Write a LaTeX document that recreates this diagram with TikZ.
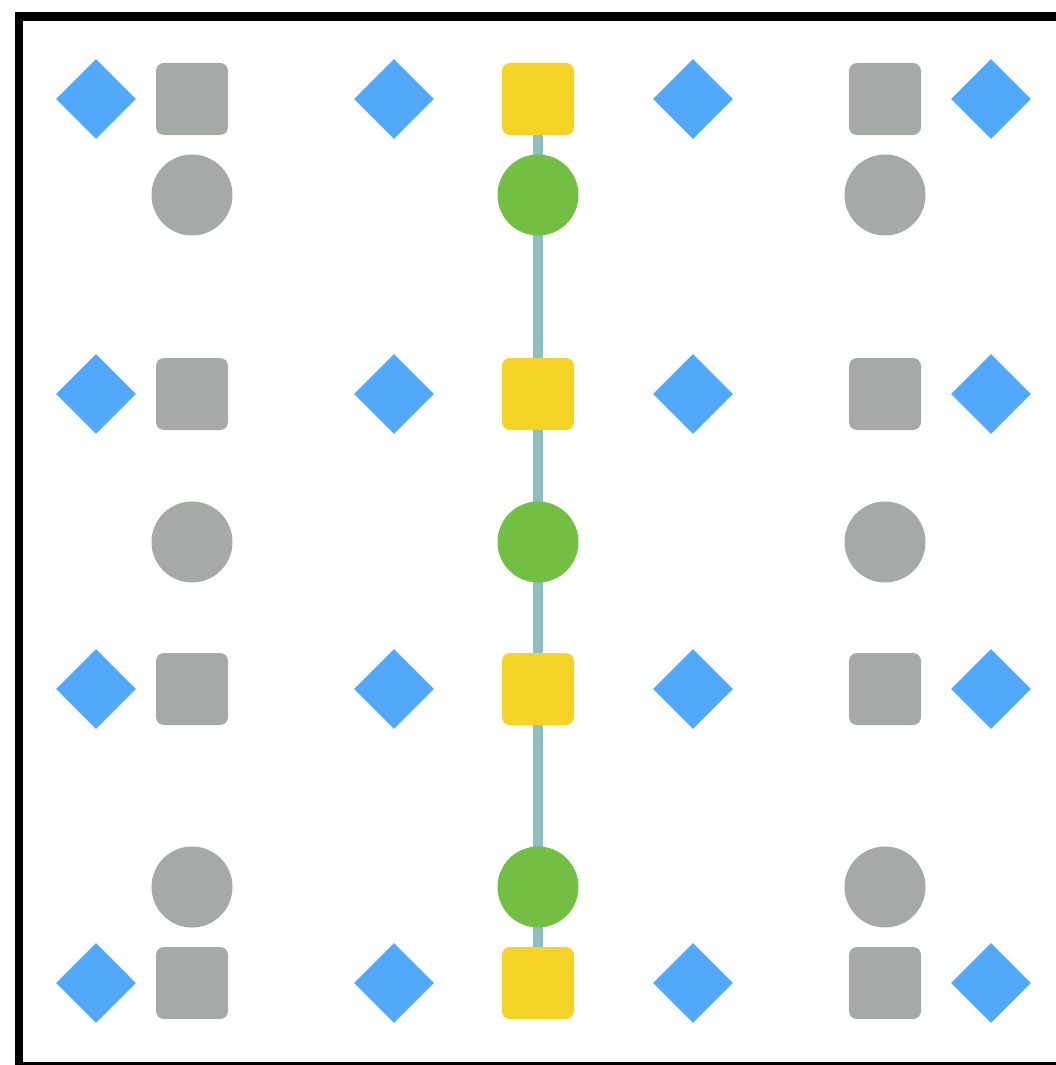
\documentclass[tikz,border=0pt]{standalone}
\usetikzlibrary{shapes.geometric,backgrounds}
\definecolor{dblue}{HTML}{52A8FA}
\definecolor{sgray}{HTML}{A6AAA7}
\definecolor{syel}{HTML}{F5D327}
\definecolor{sgreen}{HTML}{72BF44}
\definecolor{lteal}{HTML}{8BBFC0}
\tikzset{
  dia/.style={diamond,aspect=1,fill=dblue,draw=none,minimum width=80pt,minimum height=80pt,inner sep=0pt},
  gsq/.style={rectangle,rounded corners=8pt,fill=sgray,draw=none,minimum size=72pt,inner sep=0pt},
  ysq/.style={rectangle,rounded corners=8pt,fill=syel,draw=none,minimum size=72pt,inner sep=0pt},
  gci/.style={circle,fill=sgray,draw=none,minimum size=81pt,inner sep=0pt},
  grc/.style={circle,fill=sgreen,draw=none,minimum size=81pt,inner sep=0pt},
  link/.style={draw=lteal,line width=10pt}
}
\begin{document}
\begin{tikzpicture}[x=1pt,y=-1pt]
\useasboundingbox (0,0) rectangle (1056,1065);
\clip (0,0) rectangle (1056,1065);
\draw[line width=8.5pt] (19,16.5) rectangle (1064,1066.5);
\foreach \r/\y in {1/99,2/394,3/689,4/983}{
  \foreach \c/\x in {1/96,2/394,3/693,4/991}{
    \node[dia] (d\r\c) at (\x,\y) {};
  }
  \node[gsq] (sl\r) at (192,\y) {};
  \node[gsq] (sr\r) at (885,\y) {};
  \node[ysq] (y\r) at (538,\y) {};
}
\foreach \r/\y in {1/195,2/542,3/887}{
  \node[gci] (cl\r) at (192,\y) {};
  \node[gci] (cr\r) at (885,\y) {};
  \node[grc] (g\r) at (538,\y) {};
}
\begin{scope}[on background layer]
\fill[white] (0,0) rectangle (1056,1065);
\draw[link] (y1.center) -- (g1.center);
\draw[link] (g1.center) -- (y2.center);
\draw[link] (y2.center) -- (g2.center);
\draw[link] (g2.center) -- (y3.center);
\draw[link] (y3.center) -- (g3.center);
\draw[link] (g3.center) -- (y4.center);
\end{scope}
\end{tikzpicture}
\end{document}
